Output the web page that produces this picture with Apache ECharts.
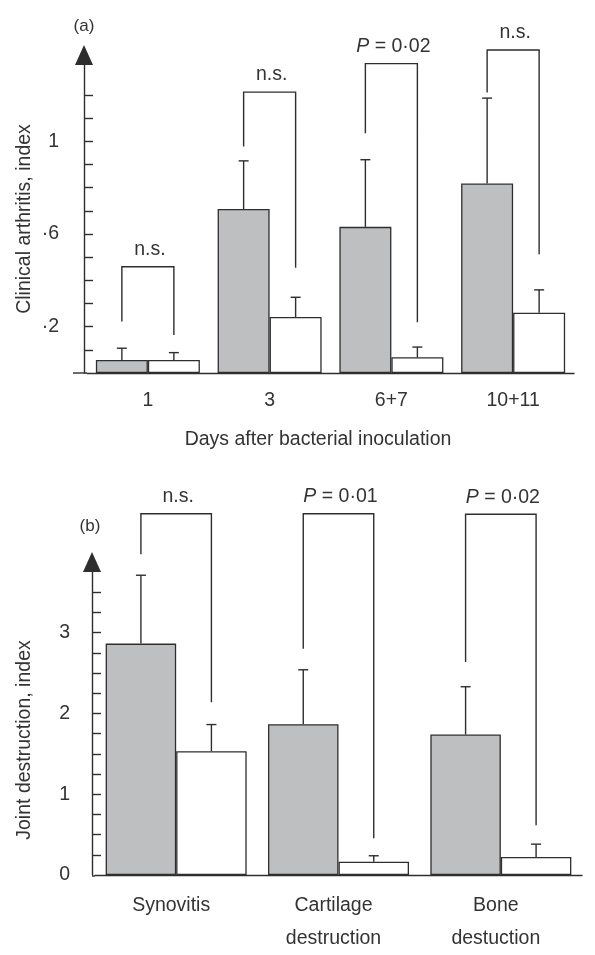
<!DOCTYPE html>
<html><head><meta charset="utf-8">
<script src="https://cdn.jsdelivr.net/npm/echarts@6/dist/echarts.min.js"></script>
<style>html,body{margin:0;padding:0;background:#fff}#c{width:595px;height:955px}</style>
</head><body><div id="c"></div>
<script>
// ---------- data: panel (a) ----------
const daysCategories = ['1', '3', '6+7', '10+11'];
const daysGrey      = [0.056, 0.708, 0.631, 0.818];
const daysGreyErr   = [0.107, 0.916, 0.921, 1.187];
const daysWhite     = [0.056, 0.242, 0.068, 0.260];
const daysWhiteErr  = [0.088, 0.327, 0.112, 0.359];
// [left leg bottom, bracket top, right leg bottom]
const daysBrackets  = [[0.222, 0.459, 0.164], [0.978, 1.213, 0.455], [1.035, 1.336, 0.219], [1.211, 1.395, 0.513]];
const daysBracketLabels = ['n.s.', 'n.s.', '{i|P} = 0·02', 'n.s.'];
const daysTickValues  = [0.1, 0.2, 0.3, 0.4, 0.5, 0.6, 0.7, 0.8, 0.9, 1.0, 1.1, 1.2];
const daysLabelValues = [0.2, 0.6, 1.0];
const daysLabelTexts  = ['·2', '·6', '1'];

// ---------- data: panel (b) ----------
const jointCategories = ['Synovitis', 'Cartilage\ndestruction', 'Bone\ndestuction'];
const jointGrey     = [2.864, 1.866, 1.739];
const jointGreyErr  = [3.71, 2.54, 2.33];
const jointWhite    = [1.533, 0.164, 0.222];
const jointWhiteErr = [1.862, 0.238, 0.382];
const jointBrackets = [[3.97, 4.47, 2.137], [2.80, 4.47, 0.456], [2.635, 4.464, 0.617]];
const jointBracketLabels = ['n.s.', '{i|P} = 0·01', '{i|P} = 0·02'];
const jointTickValues  = [0.25, 0.5, 0.75, 1, 1.25, 1.5, 1.75, 2, 2.25, 2.5, 2.75, 3, 3.25, 3.5];
const jointLabelValues = [0, 1, 2, 3];
const jointLabelTexts  = ['0', '1', '2', '3'];

// ---------- style ----------
const W = 595, H = 955;
const FONT = "'Liberation Sans', Arial, Helvetica, sans-serif";
const FS = 19.5;
const TEXT = '#333333';
const LINE = '#2e2e2e';
const GREY = '#bebfc1';
const LW = 1.4;
const GRID_A = {left: 87, right: 21, top: 65, bottom: 582};
const GRID_B = {left: 95, right: 13, top: 572, bottom: 79};
const BAR_A = 52, BAR_B = 70.5;

function lbl(values, texts) {
  return v => { const i = values.findIndex(x => Math.abs(x - v) < 1e-6); return i >= 0 ? texts[i] : ''; };
}

function errRender(side, barW) {
  return function (params, api) {
    const c = api.value(0), v = api.value(1), e = api.value(2);
    const p0 = api.coord([c, v]), p1 = api.coord([c, e]);
    const x = p0[0] + side * barW / 2;
    return {type: 'group', children: [
      {type: 'line', shape: {x1: x, y1: p0[1], x2: x, y2: p1[1]}, style: {stroke: LINE, lineWidth: LW}},
      {type: 'line', shape: {x1: x - 5, y1: p1[1], x2: x + 5, y2: p1[1]}, style: {stroke: LINE, lineWidth: LW}}
    ]};
  };
}

function bracketRender(barW, labels) {
  return function (params, api) {
    const c = api.value(0);
    const pl = api.coord([c, api.value(1)]);
    const pt = api.coord([c, api.value(2)]);
    const pr = api.coord([c, api.value(3)]);
    const xl = pl[0] - barW / 2, xr = pl[0] + barW / 2;
    return {type: 'group', children: [
      {type: 'polyline', shape: {points: [[xl, pl[1]], [xl, pt[1]], [xr, pt[1]], [xr, pr[1]]]},
       style: {stroke: LINE, fill: 'none', lineWidth: LW}},
      {type: 'text', x: (xl + xr) / 2 + 2, y: pt[1] - 7,
       style: {text: labels[params.dataIndex], fontFamily: FONT, fontSize: FS, fill: TEXT,
               align: 'center', verticalAlign: 'bottom',
               rich: {i: {fontStyle: 'italic', fontFamily: FONT, fontSize: FS, fill: TEXT}}}}
    ]};
  };
}

function yAxisCfg(gridIndex, max, ticks, lv, lt, margin) {
  return {
    type: 'value', gridIndex, min: 0, max, offset: 3,
    axisLine: {show: true, symbol: ['none', 'triangle'], symbolSize: [18, 20], symbolOffset: [0, 10],
               lineStyle: {color: LINE, width: LW}},
    axisTick: {show: true, inside: true, length: 9, customValues: ticks, lineStyle: {color: LINE, width: LW}},
    axisLabel: {customValues: lv, formatter: lbl(lv, lt), margin, color: TEXT, fontSize: FS, fontFamily: FONT},
    splitLine: {show: false}
  };
}

const chart = echarts.init(document.getElementById('c'), null, {renderer: 'canvas'});
const baseA = H - GRID_A.bottom, baseB = H - GRID_B.bottom;

chart.setOption({
  animation: false,
  backgroundColor: '#fff',
  grid: [GRID_A, GRID_B],
  xAxis: [
    {type: 'category', gridIndex: 0, data: daysCategories,
     axisLine: {lineStyle: {color: LINE, width: LW}}, axisTick: {show: false},
     axisLabel: {margin: 18, color: TEXT, fontSize: FS, fontFamily: FONT}},
    {type: 'category', gridIndex: 1, data: jointCategories,
     axisLine: {lineStyle: {color: LINE, width: LW}}, axisTick: {show: false},
     axisLabel: {margin: 14, color: TEXT, fontSize: FS, fontFamily: FONT, lineHeight: 33, padding: [0, 10, 0, 0]}}
  ],
  yAxis: [
    yAxisCfg(0, 1.33, daysTickValues, daysLabelValues, daysLabelTexts, 25),
    yAxisCfg(1, 3.75, jointTickValues, jointLabelValues, jointLabelTexts, 22)
  ],
  series: [
    {type: 'bar', xAxisIndex: 0, yAxisIndex: 0, data: daysGrey, barWidth: BAR_A, barGap: '0%',
     itemStyle: {color: GREY, borderColor: LINE, borderWidth: 1.3}},
    {type: 'bar', xAxisIndex: 0, yAxisIndex: 0, data: daysWhite, barWidth: BAR_A, barGap: '0%',
     itemStyle: {color: '#ffffff', borderColor: LINE, borderWidth: 1.3}},
    {type: 'custom', xAxisIndex: 0, yAxisIndex: 0, clip: false, renderItem: errRender(-1, BAR_A),
     data: daysGrey.map((v, i) => [i, v, daysGreyErr[i]])},
    {type: 'custom', xAxisIndex: 0, yAxisIndex: 0, clip: false, renderItem: errRender(1, BAR_A),
     data: daysWhite.map((v, i) => [i, v, daysWhiteErr[i]])},
    {type: 'custom', xAxisIndex: 0, yAxisIndex: 0, clip: false, renderItem: bracketRender(BAR_A, daysBracketLabels),
     data: daysBrackets.map((b, i) => [i, b[0], b[1], b[2]])},

    {type: 'bar', xAxisIndex: 1, yAxisIndex: 1, data: jointGrey, barWidth: BAR_B, barGap: '0%',
     itemStyle: {color: GREY, borderColor: LINE, borderWidth: 1.3}},
    {type: 'bar', xAxisIndex: 1, yAxisIndex: 1, data: jointWhite, barWidth: BAR_B, barGap: '0%',
     itemStyle: {color: '#ffffff', borderColor: LINE, borderWidth: 1.3}},
    {type: 'custom', xAxisIndex: 1, yAxisIndex: 1, clip: false, renderItem: errRender(-1, BAR_B),
     data: jointGrey.map((v, i) => [i, v, jointGreyErr[i]])},
    {type: 'custom', xAxisIndex: 1, yAxisIndex: 1, clip: false, renderItem: errRender(1, BAR_B),
     data: jointWhite.map((v, i) => [i, v, jointWhiteErr[i]])},
    {type: 'custom', xAxisIndex: 1, yAxisIndex: 1, clip: false, renderItem: bracketRender(BAR_B, jointBracketLabels),
     data: jointBrackets.map((b, i) => [i, b[0], b[1], b[2]])}
  ],
  graphic: [
    {type: 'line', shape: {x1: 73, y1: baseA, x2: GRID_A.left, y2: baseA}, style: {stroke: LINE, lineWidth: LW}},
    {type: 'line', shape: {x1: 92, y1: baseB, x2: GRID_B.left, y2: baseB}, style: {stroke: LINE, lineWidth: LW}},
    {type: 'text', x: 84, y: 26, style: {text: '(a)', fontFamily: FONT, fontSize: 17, fill: TEXT, align: 'center', verticalAlign: 'middle'}},
    {type: 'text', x: 90, y: 526, style: {text: '(b)', fontFamily: FONT, fontSize: 17, fill: TEXT, align: 'center', verticalAlign: 'middle'}},
    {type: 'text', x: 25, y: 219, rotation: Math.PI / 2,
     style: {text: 'Clinical arthritis, index', fontFamily: FONT, fontSize: FS, fill: TEXT, align: 'center', verticalAlign: 'middle'}},
    {type: 'text', x: 25, y: 740, rotation: Math.PI / 2,
     style: {text: 'Joint destruction, index', fontFamily: FONT, fontSize: FS, fill: TEXT, align: 'center', verticalAlign: 'middle'}},
    {type: 'text', x: 318, y: 440,
     style: {text: 'Days after bacterial inoculation', fontFamily: FONT, fontSize: FS, fill: TEXT, align: 'center', verticalAlign: 'middle'}}
  ]
});
</script>
</body></html>
